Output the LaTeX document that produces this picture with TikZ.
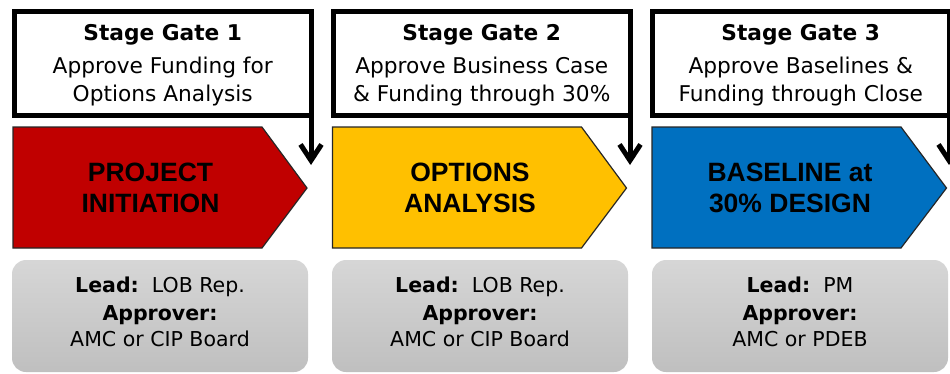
\documentclass[tikz,border=0pt]{standalone}
\usepackage{fontspec}
\setmainfont{DejaVu Sans}
\newfontfamily\pentfont{Liberation Sans}
\usetikzlibrary{arrows.meta}
\definecolor{pred}{HTML}{C00000}
\definecolor{pyel}{HTML}{FFC000}
\definecolor{pblu}{HTML}{0070C0}
\begin{document}
\begin{tikzpicture}[x=1pt,y=-1pt,
  gatebox/.style={draw=black, line width=5pt, fill=white, minimum width=296.5pt, minimum height=103.5pt, outer sep=0pt, inner sep=0pt},
  gatearrow/.style={draw=black, line width=5pt, -{Straight Barb[length=16pt,width=21pt,line width=5pt]}},
  gtitle/.style={anchor=base, inner sep=0pt, font=\fontsize{21.7}{26}\bfseries},
  gtext/.style={anchor=base, inner sep=0pt, font=\fontsize{21.7}{26}\selectfont},
  phase/.style={draw=black!85, line width=1.2pt, line join=miter},
  ptext/.style={anchor=base, inner sep=0pt, font=\pentfont\fontsize{26.5}{31}\bfseries},
  infobox/.style={rounded corners=14pt, minimum width=296pt, minimum height=112pt, top color=black!16, middle color=black!7, bottom color=black!25, draw=none, inner sep=0pt, outer sep=0pt},
  itext/.style={anchor=base, inner sep=0pt, font=\fontsize{20.5}{24}\selectfont},
]
\useasboundingbox (0,0) rectangle (950,373);

% ---------- Stage 1 ----------
\node[gatebox] (g1) at (162.75,63.25) {};
\node[gtitle] (g1a) at (162.75,40.7) {Stage Gate 1};
\node[gtext]  (g1b) at (162.75,73.3) {Approve Funding for};
\node[gtext]  (g1c) at (162.75,101.7) {Options Analysis};
\coordinate (a1) at (311,165);
\draw[gatearrow] (g1.south east) -- (a1);

\draw[phase, fill=pred] (13,127) -- (262,127) -- (307,188) -- (262,248) -- (13,248) -- cycle;
\node[ptext] (p1a) at (150.5,181) {PROJECT};
\node[ptext] (p1b) at (150.5,212.5) {INITIATION};

\node[infobox] (i1) at (160,316) {};
\node[itext] (i1a) at (160,292.3) {\textbf{Lead:}\ \ LOB Rep.};
\node[itext] (i1b) at (160,320) {\textbf{Approver:}};
\node[itext] (i1c) at (160,346.7) {AMC or CIP Board};

% ---------- Stage 2 ----------
\node[gatebox] (g2) at (481.75,63.25) {};
\node[gtitle] (g2a) at (481.75,40.7) {Stage Gate 2};
\node[gtext]  (g2b) at (481.75,73.3) {Approve Business Case};
\node[gtext]  (g2c) at (481.75,101.7) {\& Funding through 30\%};
\coordinate (a2) at (630,165);
\draw[gatearrow] (g2.south east) -- (a2);

\draw[phase, fill=pyel] (332.5,127) -- (581.5,127) -- (626.5,188) -- (581.5,248) -- (332.5,248) -- cycle;
\node[ptext] (p2a) at (470,181) {OPTIONS};
\node[ptext] (p2b) at (470,212.5) {ANALYSIS};

\node[infobox] (i2) at (480,316) {};
\node[itext] (i2a) at (480,292.3) {\textbf{Lead:}\ \ LOB Rep.};
\node[itext] (i2b) at (480,320) {\textbf{Approver:}};
\node[itext] (i2c) at (480,346.7) {AMC or CIP Board};

% ---------- Stage 3 ----------
\node[gatebox] (g3) at (800.75,63.25) {};
\node[gtitle] (g3a) at (800.75,40.7) {Stage Gate 3};
\node[gtext]  (g3b) at (800.75,73.3) {Approve Baselines \&};
\node[gtext]  (g3c) at (800.75,101.7) {Funding through Close};
\coordinate (a3) at (949,165);
\draw[gatearrow] (g3.south east) -- (a3);

\draw[phase, fill=pblu] (652,127) -- (901,127) -- (946.5,188) -- (901,248) -- (652,248) -- cycle;
\node[ptext] (p3a) at (790,181) {BASELINE at};
\node[ptext] (p3b) at (790,212.5) {30\% DESIGN};

\node[infobox] (i3) at (800,316) {};
\node[itext] (i3a) at (800,292.3) {\textbf{Lead:}\ \ PM};
\node[itext] (i3b) at (800,320) {\textbf{Approver:}};
\node[itext] (i3c) at (800,346.7) {AMC or PDEB};
\end{tikzpicture}
\end{document}
